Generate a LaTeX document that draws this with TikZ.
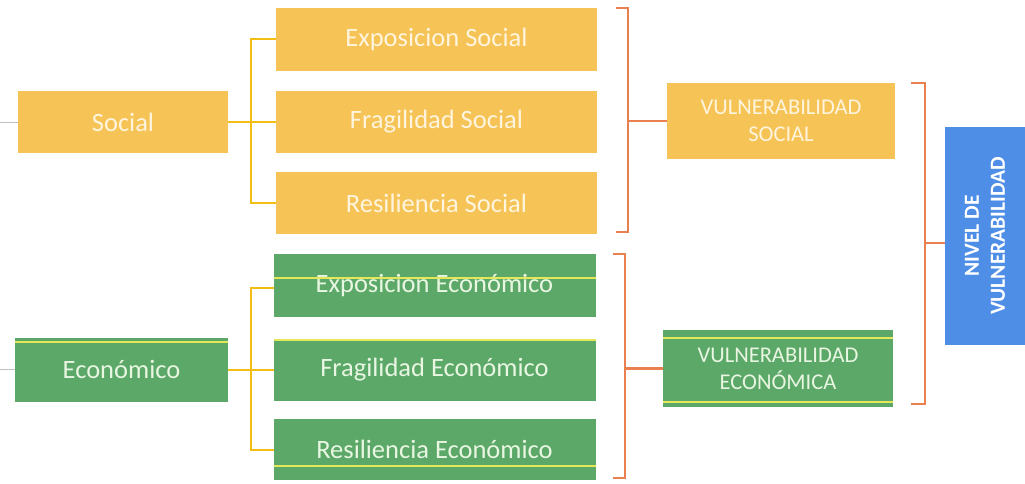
\documentclass[tikz,border=0pt]{standalone}
\usepackage{fontspec}
\setmainfont{Carlito}
\usetikzlibrary{calc}
\definecolor{gold}{RGB}{246,196,86}
\definecolor{grn}{RGB}{92,168,104}
\definecolor{blu}{RGB}{78,142,230}
\definecolor{org}{RGB}{232,128,80}
\definecolor{ylw}{RGB}{242,190,20}
\definecolor{gline}{RGB}{226,232,90}
\definecolor{creamtxt}{RGB}{255,244,222}
\definecolor{greentxt}{RGB}{232,246,226}
\begin{document}
\begin{tikzpicture}[x=1pt,y=-1pt,
  box/.style={inner sep=0pt, outer sep=0pt, align=center},
  goldbox/.style={box, fill=gold, text=creamtxt},
  greenbox/.style={box, fill=grn, text=greentxt},
  subtxt/.style={font=\fontsize{26.5}{30}\selectfont},
  vultxt/.style={font=\fontsize{22.5}{27}\selectfont},
  ylwline/.style={draw=ylw, line width=2pt},
  orgline/.style={draw=org, line width=2.2pt},
  gridline/.style={draw=gline, line width=1.2pt},
  faint/.style={draw=gray!50, line width=0.6pt}]
\useasboundingbox (0,0) rectangle (1025,484);
\fill[white] (0,0) rectangle (1025,484);

% social group
\node[goldbox, subtxt, minimum width=210pt, minimum height=62pt] (social) at (123,122) {Social};
\node[goldbox, subtxt, minimum width=321pt, minimum height=63pt] (expS) at (436.5,39.5) {Exposicion Social};
\node[goldbox, subtxt, minimum width=321pt, minimum height=62pt] (fraS) at (436.5,122) {Fragilidad Social};
\node[goldbox, subtxt, minimum width=321pt, minimum height=62pt] (resS) at (436.5,203) {Resiliencia Social};
\node[goldbox, vultxt, minimum width=228pt, minimum height=75pt] (vulS) at (781,121) {VULNERABILIDAD\\SOCIAL};

% economic group
\node[greenbox, subtxt, minimum width=213pt, minimum height=64pt] (econ) at (121.5,369.5) {Económico};
\node[greenbox, subtxt, minimum width=322pt, minimum height=63pt] (expE) at (434.5,285.5) {Exposicion Económico};
\node[greenbox, subtxt, minimum width=322pt, minimum height=62pt] (fraE) at (434.5,369.5) {Fragilidad Económico};
\node[greenbox, subtxt, minimum width=322pt, minimum height=61pt] (resE) at (434.5,449.5) {Resiliencia Económico};
\node[greenbox, vultxt, minimum width=230pt, minimum height=77pt] (vulE) at (778,368.5) {VULNERABILIDAD\\ECONÓMICA};

% grid lines showing through the green boxes
\draw[gridline] (expE.west |- 0,278) -- (expE.east |- 0,278);
\draw[gridline] (fraE.west |- 0,340) -- (fraE.east |- 0,340);
\draw[gridline] (resE.west |- 0,466) -- (resE.east |- 0,466);
\draw[gridline] (econ.west |- 0,342) -- (econ.east |- 0,342);
\draw[gridline] (vulE.west |- 0,338) -- (vulE.east |- 0,338);
\draw[gridline] (vulE.west |- 0,402) -- (vulE.east |- 0,402);

% total box
\node[box, fill=blu, text=white, minimum width=80pt, minimum height=218pt] (nivel) at (985,236) {};
\node[box, text=white, rotate=90, font=\bfseries\fontsize{21.5}{26}\selectfont] (niveltxt) at (nivel.center) {NIVEL DE\\VULNERABILIDAD};

% faint lines at left edge
\coordinate (lS) at (0,122);
\coordinate (lE) at (0,369.5);
\draw[faint] (lS) -- (social.west);
\draw[faint] (lE) -- (econ.west);

% yellow brackets
\draw[ylwline] (expS.west) -- ++(-25,0) coordinate (ybS) |- (resS.west);
\draw[ylwline] (social.east) -- (fraS.west);
\draw[ylwline] (expE.west |- 0,288) coordinate (eT) -- ++(-23,0) |- (resE.west |- 0,450);
\draw[ylwline] (econ.east) -- (fraE.west);

% orange brackets
\coordinate (oS1) at (616,8);
\coordinate (oS2) at (628,8);
\coordinate (oS3) at (628,232);
\coordinate (oS4) at (616,232);
\draw[orgline] (oS1) -- (oS2) -- (oS3) -- (oS4);
\draw[orgline] (oS2 |- vulS.west) -- (vulS.west);

\coordinate (oE1) at (613,254);
\coordinate (oE2) at (625,254);
\coordinate (oE3) at (625,478);
\coordinate (oE4) at (613,478);
\draw[orgline] (oE1) -- (oE2) -- (oE3) -- (oE4);
\draw[orgline] (oE2 |- vulE.west) -- (vulE.west);

\coordinate (oR1) at (911,83);
\coordinate (oR2) at (925,83);
\coordinate (oR3) at (925,404);
\coordinate (oR4) at (911,404);
\draw[orgline] (oR1) -- (oR2) -- (oR3) -- (oR4);
\coordinate (oRm) at (925,243);
\draw[orgline] (oRm) -- (oRm -| nivel.west);
\end{tikzpicture}
\end{document}
